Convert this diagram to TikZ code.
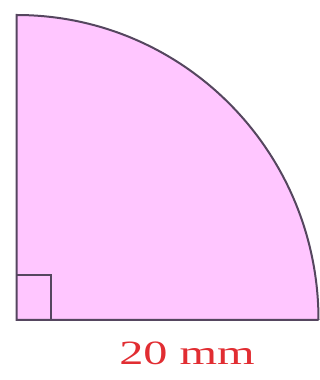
\documentclass[tikz,border=0pt]{standalone}
\usepackage{fontspec}
\setmainfont{Liberation Serif}
\definecolor{sectorfill}{RGB}{255,198,255}
\definecolor{edge}{RGB}{85,70,95}
\definecolor{labelred}{RGB}{225,45,50}
\tikzset{
  edgeline/.style={draw=edge, line width=2pt},
  dimlabel/.style={text=labelred, font=\fontsize{34}{38}\selectfont, inner sep=0pt, xscale=1.42, anchor=base}
}
\begin{document}
\begin{tikzpicture}[x=1pt,y=1pt]
\useasboundingbox (0,0) rectangle (320,380);
\coordinate (O) at (16.5,60);
\coordinate (T) at (16.5,365);
\coordinate (R) at (318.5,60);
\fill[sectorfill] (O) -- (T) arc[start angle=90, end angle=0, x radius=302, y radius=305] -- cycle;
\draw[edgeline] (R) -- (O) -- (T) arc[start angle=90, end angle=0, x radius=302, y radius=305];
\draw[edgeline, line width=1.7pt] (16.5,105) -- (51,105) -- (51,60);
\node[dimlabel] (lbl) at (187,15) {20 mm};
\end{tikzpicture}
\end{document}
